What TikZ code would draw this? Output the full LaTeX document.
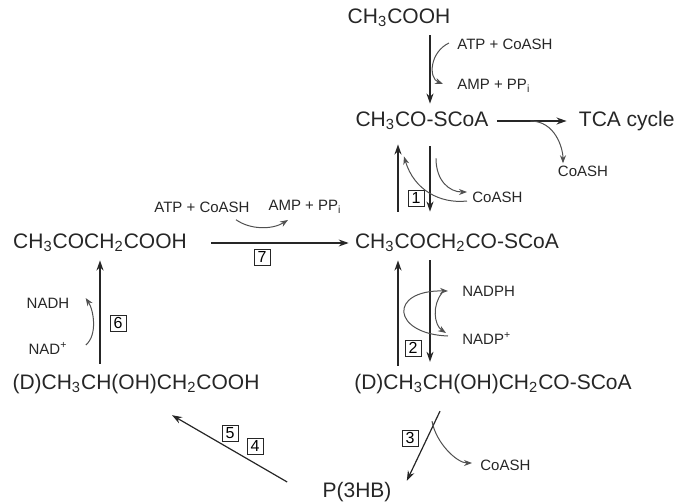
\documentclass[tikz,border=0pt]{standalone}
\usepackage{fontspec}
\setmainfont{Liberation Sans}
\usetikzlibrary{arrows.meta, calc}
\definecolor{pathink}{HTML}{262626}
\definecolor{pathgray}{HTML}{505050}

\begin{document}
\begin{tikzpicture}[x=0.5pt, y=-0.5pt,
  chem/.style={font=\fontsize{10.5}{13}\selectfont, text=pathink, inner sep=1pt},
  cof/.style={font=\fontsize{7.5}{9}\selectfont, text=pathink, inner sep=1pt},
  enz/.style={draw=pathink, font=\fontsize{8}{9}\selectfont, inner sep=1pt, minimum size=8pt},
  rxn/.style={-{Stealth[length=5pt,width=3.5pt]}, pathink, line width=0.6pt},
  rxnup/.style={rxn, line width=1pt},
  side/.style={-{Stealth[length=4pt,width=3pt]}, pathgray, line width=0.5pt}]
  \useasboundingbox (0,0) rectangle (677,504);
  % acetate activation
  \node[chem] (acet) at (399,18) {CH\textsubscript{3}COOH};
  \node[cof, anchor=west] (atpa) at (455,44) {ATP + CoASH};
  \node[cof, anchor=west] (ampa) at (455,86) {AMP + PP\textsubscript{i}};
  \node[chem] (acoa) at (422,121) {CH\textsubscript{3}CO-SCoA};
  \node[chem, anchor=east, inner sep=0pt] (tca) at (675,121) {TCA cycle};
  \node[cof] (coasha) at (583,171) {CoASH};
  \node[enz] (e1) at (416,198) {1};
  \node[cof, anchor=west] (coashb) at (470,197) {CoASH};
  % acetoacetyl level
  \node[chem] (acac) at (100,243) {CH\textsubscript{3}COCH\textsubscript{2}COOH};
  \node[cof] (atpb) at (202,207) {ATP + CoASH};
  \node[cof] (ampb) at (305,207) {AMP + PP\textsubscript{i}};
  \node[enz] (e7) at (262,257) {7};
  \node[chem] (acacoa) at (457,243) {CH\textsubscript{3}COCH\textsubscript{2}CO-SCoA};
  \node[cof, anchor=west] (nadph) at (460,291) {NADPH};
  \node[cof, anchor=west] (nadp) at (460,338) {NADP\textsuperscript{+}};
  \node[enz] (e2) at (413,348) {2};
  % hydroxybutyrate level
  \node[chem] (hbcoa) at (493,384) {(D)CH\textsubscript{3}CH(OH)CH\textsubscript{2}CO-SCoA};
  \node[chem] (hb) at (136,384) {(D)CH\textsubscript{3}CH(OH)CH\textsubscript{2}COOH};
  \node[enz] (e6) at (118,323) {6};
  \node[cof] (nadh) at (48,303) {NADH};
  \node[cof] (nad) at (48,348) {NAD\textsuperscript{+}};
  % polymer
  \node[enz] (e3) at (410,438) {3};
  \node[cof, anchor=west] (coashc) at (478,465) {CoASH};
  \node[chem] (phb) at (357,492) {P(3HB)};
  \node[enz] (e5) at (230,433) {5};
  \node[enz] (e4) at (255,446) {4};

  \coordinate (colL) at (398,0);
  \coordinate (colR) at (430,0);

  % top reactions
  \draw[rxn, shorten <=3pt, shorten >=3pt] (acet.south -| colR) -- (acoa.north -| colR);
  \draw[side] ($(atpa.west)+(-6,-1)$) .. controls (430,52) and (428,78) .. ($(ampa.west)+(-12,-2)$);
  \draw[rxn, shorten <=3pt, shorten >=6pt] (acoa.east) -- (tca.west);
  \coordinate (tb) at ($(acoa.east)!0.45!(tca.west)$);
  \draw[side] (tb) .. controls +(25,0) and +(0,-15) .. ([xshift=-10pt]coasha.north);
  % step 1
  \draw[rxnup, shorten <=10pt, shorten >=6pt] (acacoa.north -| colL) -- (acoa.south -| colL);
  \draw[rxn, shorten <=7pt, shorten >=10pt] (acoa.south -| colR) -- (acacoa.north -| colR);
  \draw[side] ($(acoa.south -| colR)+(6,26)$) .. controls +(0,22) and +(-18,0) .. ($(coashb.west)+(-3,-5)$);
  \draw[side] ($(coashb.west)+(-3,4)$) .. controls (440,204) and (414,190) .. ($(acoa.south -| colL)+(6,24)$);
  % step 7
  \draw[rxn, shorten <=11pt, shorten >=2pt] (acac.east) -- (acacoa.west);
  \draw[side] ($(atpb.south)+(34,5)$) .. controls +(14,10) and +(-16,10) .. ($(ampb.south)+(-17,4)$);
  % step 2
  \draw[rxnup, shorten <=3pt, shorten >=3pt] (hbcoa.north -| colL) -- (acacoa.south -| colL);
  \draw[rxn, shorten <=3pt, shorten >=5pt] (acacoa.south -| colR) -- (hbcoa.north -| colR);
  \draw[side] ($(nadp.west)+(-12,-2)$) .. controls (392,334) and (388,290) .. ($(nadph.west)+(-12,0)$);
  \draw[side] ($(nadph.west)+(-18,2)$) .. controls (432,305) and (434,325) .. ($(nadp.west)+(-14,-5)$);
  % step 6
  \draw[rxnup, shorten <=4pt, shorten >=3pt] (hb.north -| acac.south) -- (acac.south);
  \draw[side] ($(nad.east)+(16,-3)$) .. controls +(12,-10) and +(8,12) .. ($(nadh.east)+(14,-5)$);
  % step 3
  \draw[rxn] ($(hbcoa.south)+(-53,15)$) -- ($(phb.north east)+(13,1)$);
  \draw[side] ($(hbcoa.south)+(-61,25)$) .. controls +(4,22) and +(-15,0) .. ($(coashc.west)+(-6,-2)$);
  % steps 4 and 5
  \draw[rxn] ($(phb.west)+(-33,-10)$) -- ($(hb.south)+(36,19)$);
\end{tikzpicture}
\end{document}
